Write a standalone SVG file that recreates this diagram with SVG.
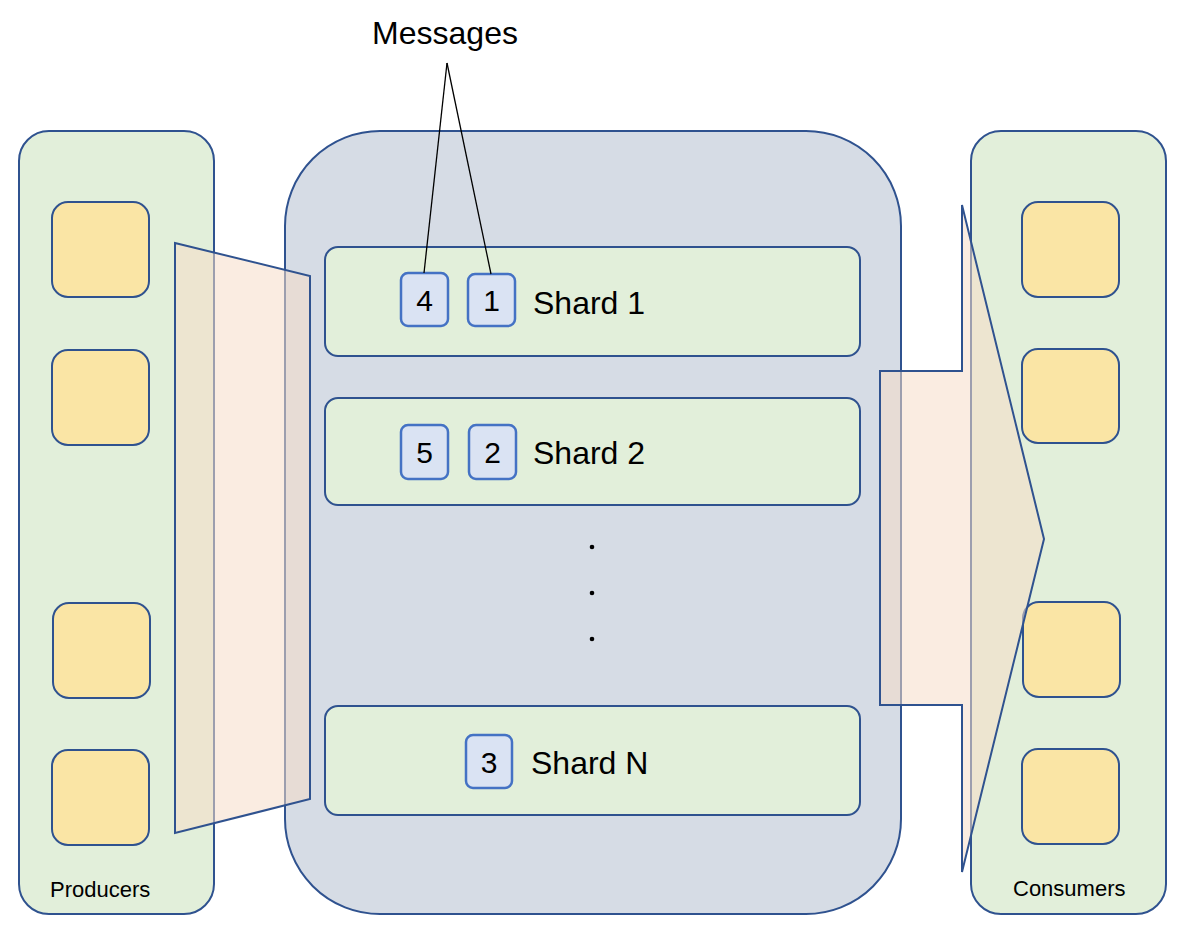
<svg xmlns="http://www.w3.org/2000/svg" width="1200" height="938" viewBox="0 0 1200 938">
<style>
text{font-family:"Liberation Sans",Arial,sans-serif;fill:#000}
.panel{fill:#E2EFDA;stroke:#2F528F;stroke-width:2}
.hub{fill:#D6DCE5;stroke:#2F528F;stroke-width:2}
.box{fill:#FAE5A5;stroke:#2F528F;stroke-width:2}
.shard{fill:#E2EFDA;stroke:#2F528F;stroke-width:2}
.msg{fill:#DAE3F3;stroke:#4472C4;stroke-width:2.5}
.flow{fill:#F5DCC8;fill-opacity:0.55;stroke:#2F528F;stroke-width:2;stroke-linejoin:miter}
.lbl{font-size:22px}
.big{font-size:32px}
.num{font-size:30px;text-anchor:middle}
.conn{stroke:#000;stroke-width:1.3;fill:none}
</style>
<rect width="1200" height="938" fill="#fff"/>
<g id="producers">
<rect class="panel" x="19" y="131" width="195" height="783" rx="30"/>
<rect class="box" x="52" y="202" width="97" height="95" rx="16"/>
<rect class="box" x="52" y="350" width="97" height="95" rx="16"/>
<rect class="box" x="53" y="603" width="97" height="95" rx="16"/>
<rect class="box" x="52" y="750" width="97" height="95" rx="16"/>
<text class="lbl" x="50" y="897">Producers</text>
</g>
<g id="stream">
<rect class="hub" x="285" y="131" width="616" height="783" rx="95"/>
</g>
<g id="shard1">
<rect class="shard" x="325" y="247" width="535" height="109" rx="13"/>
<rect class="msg" x="401" y="273" width="47" height="53" rx="7"/>
<text class="num" x="424.5" y="311">4</text>
<rect class="msg" x="468" y="274" width="47" height="52" rx="7"/>
<text class="num" x="491.5" y="311">1</text>
<text class="big" x="533" y="314">Shard 1</text>
</g>
<g id="shard2">
<rect class="shard" x="325" y="398" width="535" height="107" rx="13"/>
<rect class="msg" x="401" y="425" width="47" height="54" rx="7"/>
<text class="num" x="424.5" y="463">5</text>
<rect class="msg" x="469" y="425" width="47" height="54" rx="7"/>
<text class="num" x="492.5" y="463">2</text>
<text class="big" x="533" y="464">Shard 2</text>
</g>
<g id="ellipsis">
<circle cx="592" cy="547" r="2.3" fill="#000"/>
<circle cx="592" cy="593" r="2.3" fill="#000"/>
<circle cx="592" cy="639" r="2.3" fill="#000"/>
</g>
<g id="shardN">
<rect class="shard" x="325" y="706" width="535" height="109" rx="13"/>
<rect class="msg" x="466" y="735" width="46" height="53" rx="7"/>
<text class="num" x="489" y="773">3</text>
<text class="big" x="531" y="774">Shard N</text>
</g>
<g id="consumers">
<rect class="panel" x="971" y="131" width="195" height="783" rx="30"/>
<rect class="box" x="1022" y="202" width="97" height="95" rx="16"/>
<rect class="box" x="1022" y="349" width="97" height="94" rx="16"/>
<rect class="box" x="1023" y="602" width="97" height="95" rx="16"/>
<rect class="box" x="1022" y="749" width="97" height="95" rx="16"/>
<text class="lbl" x="1013" y="896">Consumers</text>
</g>
<g id="flow-in">
<polygon class="flow" points="175,243 310,276 310,799 175,833"/>
</g>
<g id="flow-out">
<polygon class="flow" points="880,371 962,371 962,205 1044,539 962,872 962,705 880,705"/>
</g>
<g id="messages-label">
<text class="big" x="445" y="44" text-anchor="middle">Messages</text>
</g>
<g id="connectors">
<line class="conn" x1="447" y1="63" x2="424" y2="273"/>
<line class="conn" x1="447" y1="63" x2="491" y2="274"/>
</g>
</svg>
